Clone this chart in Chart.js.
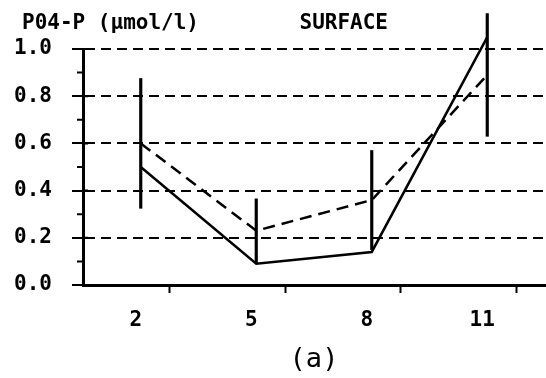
<!DOCTYPE html>
<html>
<head>
<meta charset="utf-8">
<script src="https://cdn.jsdelivr.net/npm/chart.js@4.4.1/dist/chart.umd.min.js"></script>
<style>
  html, body { margin: 0; padding: 0; background: #fff; }
  #wrap { width: 546px; height: 378px; position: relative; }
</style>
</head>
<body>
<div id="wrap"><canvas id="po4Chart"></canvas></div>
<script>
// months sampled
const categories = [2, 5, 8, 11];
// solid line
const solidValues = [0.50, 0.09, 0.14, 1.05];
// dashed line (mean) and its error bar half-width
const dashedValues = [0.60, 0.23, 0.36, 0.89];
const dashedSd = [0.275, 0.135, 0.21, 0.26];
// x tick marks sit between the months
const xTickMarks = [0.5, 3.5, 6.5, 9.5, 12.5];
const yMinorTicks = [0.1, 0.3, 0.5, 0.7, 0.9];

const monoFont = '"DejaVu Sans Mono", "Liberation Mono", monospace';

const headerText = {
  id: 'headerText',
  afterDraw(chart) {
    const ctx = chart.ctx;
    ctx.save();
    ctx.fillStyle = '#000';
    ctx.font = 'bold 21px ' + monoFont;
    ctx.textBaseline = 'alphabetic';
    ctx.textAlign = 'left';
    ctx.fillText('P04-P (\u03bcmol/l)', 22, 29);
    ctx.textAlign = 'right';
    ctx.fillText('SURFACE', 388, 29);
    ctx.restore();
  }
};

// short minor ticks on the y axis, and the bit of each major tick that pokes inside
const yMinor = {
  id: 'yMinor',
  afterDraw(chart) {
    const y = chart.scales.y;
    const ctx = chart.ctx;
    const x0 = chart.chartArea.left;
    ctx.save();
    ctx.strokeStyle = '#000';
    ctx.lineWidth = 2;
    ctx.beginPath();
    yMinorTicks.forEach(v => {
      const py = y.getPixelForValue(v);
      ctx.moveTo(x0 - 6, py);
      ctx.lineTo(x0, py);
    });
    y.ticks.forEach(t => {
      const py = y.getPixelForValue(t.value);
      ctx.moveTo(x0, py);
      ctx.lineTo(x0 + 5, py);
    });
    ctx.stroke();
    ctx.restore();
  }
};

document.addEventListener("DOMContentLoaded", function () {
  const ctx = document.getElementById("po4Chart").getContext("2d");
  new Chart(ctx, {
    data: {
      datasets: [
        {
          type: 'line',
          label: 'solid',
          data: categories.map((c, i) => ({ x: c, y: solidValues[i] })),
          borderColor: '#000',
          borderWidth: 2.5,
          pointRadius: 0,
          tension: 0,
          clip: false
        },
        {
          type: 'line',
          label: 'dashed',
          data: categories.map((c, i) => ({ x: c, y: dashedValues[i] })),
          borderColor: '#000',
          borderWidth: 2.5,
          borderDash: [12, 7],
          pointRadius: 0,
          tension: 0,
          clip: false
        },
        {
          type: 'bar',
          label: 'sd',
          data: categories.map((c, i) => ({ x: c, y: [dashedValues[i] - dashedSd[i], dashedValues[i] + dashedSd[i]] })),
          backgroundColor: '#000',
          borderWidth: 0,
          barThickness: 2.5,
          clip: false
        }
      ]
    },
    options: {
      responsive: true,
      maintainAspectRatio: false,
      animation: false,
      layout: { padding: { top: 49, right: 1, left: 0, bottom: 0 } },
      plugins: {
        legend: { display: false },
        tooltip: { enabled: false }
      },
      scales: {
        x: {
          type: 'linear',
          min: 0.5,
          max: 12.5,
          offset: false,
          afterBuildTicks(scale) {
            const vals = xTickMarks.concat(categories).sort((a, b) => a - b);
            scale.ticks = vals.map(v => ({ value: v }));
          },
          afterFit(scale) {
            scale.height = 93;
            scale.paddingLeft = 0;
            scale.paddingRight = 0;
          },
          ticks: {
            autoSkip: false,
            maxRotation: 0,
            padding: 15,
            labelOffset: -5,
            color: '#000',
            font: { family: monoFont, size: 21, weight: 'bold' },
            callback: v => categories.includes(v) ? String(v) : ''
          },
          grid: {
            drawOnChartArea: false,
            tickLength: 8,
            tickWidth: 2,
            tickColor: c => (c.tick && categories.includes(c.tick.value)) ? 'rgba(0,0,0,0)' : '#000'
          },
          border: { color: '#000', width: 3 },
          title: {
            display: true,
            text: '(a)',
            color: '#000',
            font: { family: monoFont, size: 27 },
            padding: { top: 0, bottom: 2 }
          }
        },
        y: {
          min: 0,
          max: 1,
          afterFit(scale) { scale.width = 83; },
          ticks: {
            stepSize: 0.2,
            padding: 20,
            color: '#000',
            font: { family: monoFont, size: 21, weight: 'bold' },
            callback: v => v.toFixed(1)
          },
          grid: {
            color: '#000',
            lineWidth: 2,
            tickLength: 11,
            tickWidth: 2,
            tickColor: '#000'
          },
          border: { color: '#000', width: 3, dash: [10, 6] }
        }
      }
    },
    plugins: [headerText, yMinor]
  });
});
</script>
</body>
</html>
